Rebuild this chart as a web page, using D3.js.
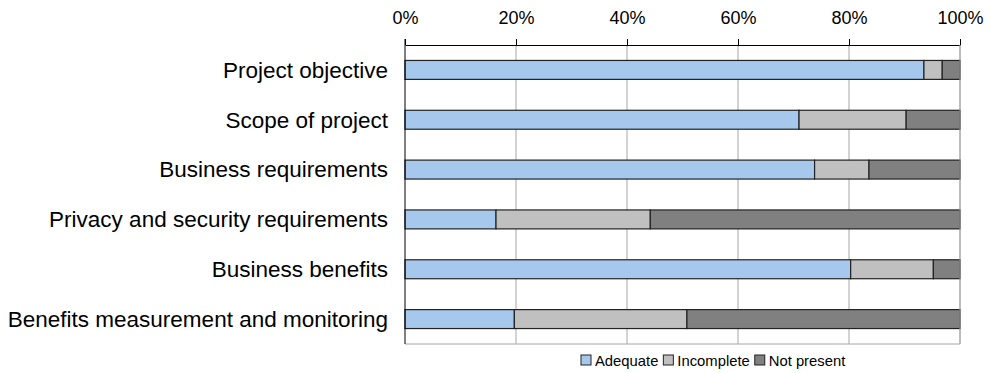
<!DOCTYPE html>
<html>
<head>
<meta charset="utf-8">
<script src="https://cdn.jsdelivr.net/npm/d3@7"></script>
<style>
  body { margin: 0; background: #fff; }
  svg { font-family: "Liberation Sans", Arial, sans-serif; }
</style>
</head>
<body>
<div id="chart"></div>
<script>
// categories, top to bottom
const categories = ["Project objective", "Scope of project", "Business requirements",
    "Privacy and security requirements", "Business benefits", "Benefits measurement and monitoring"];
const seriesNames = ["Adequate", "Incomplete", "Not present"];
const adequate = [93.5, 71.0, 73.8, 16.4, 80.3, 19.7];
const incomplete = [3.3, 19.3, 9.8, 27.8, 14.9, 31.1];
const notPresent = [3.2, 9.7, 16.4, 55.8, 4.8, 49.2];
const tickValues = [0, 20, 40, 60, 80, 100];
const colors = ["#a6c8ec", "#c0c0c0", "#808080"];

let width = 990, height = 373;
let margin = { top: 45, right: 30, bottom: 29, left: 405 };

let svg = d3.select("#chart").append("svg")
    .attr("width", width)
    .attr("height", height);

let x = d3.scaleLinear().domain([0, 100]).range([margin.left, width - margin.right]);
let y = d3.scaleBand().domain(categories)
    .range([margin.top, height - margin.bottom])
    .paddingInner(0.62).paddingOuter(0.31);

// gridlines
svg.append("g")
    .selectAll("line")
    .data(tickValues.slice(1))
    .enter().append("line")
    .attr("x1", d => x(d)).attr("x2", d => x(d))
    .attr("y1", margin.top).attr("y2", height - margin.bottom)
    .attr("stroke", "#a6a6a6").attr("stroke-width", 1);

// bottom border
svg.append("line")
    .attr("x1", margin.left).attr("x2", width - margin.right)
    .attr("y1", height - margin.bottom).attr("y2", height - margin.bottom)
    .attr("stroke", "#a6a6a6");

// stack the data
let rows = categories.map((c, i) => ({ cat: c, Adequate: adequate[i], Incomplete: incomplete[i], "Not present": notPresent[i] }));
let stacked = d3.stack().keys(seriesNames)(rows);

svg.append("g").selectAll("g")
    .data(stacked)
    .enter().append("g")
    .attr("fill", (d, i) => colors[i])
    .selectAll("rect")
    .data(d => d)
    .enter().append("rect")
    .attr("x", d => x(d[0]))
    .attr("y", d => y(d.data.cat))
    .attr("width", d => x(d[1]) - x(d[0]))
    .attr("height", y.bandwidth())
    .attr("stroke", "#222")
    .attr("stroke-width", 1.2);

// top axis
let xAxis = svg.append("g")
    .attr("transform", `translate(0, ${margin.top})`)
    .call(d3.axisTop(x).tickValues(tickValues).tickFormat(d => d + "%").tickSize(6).tickSizeOuter(0));
xAxis.select(".domain").attr("stroke", "#000");
xAxis.selectAll(".tick line").attr("stroke", "#000");
xAxis.selectAll("text").attr("font-size", 18).attr("fill", "#000")
    .attr("font-family", "Liberation Sans, Arial, sans-serif")
    .attr("dy", 0)
    .attr("y", -21);

// left axis line
svg.append("line")
    .attr("x1", margin.left).attr("x2", margin.left)
    .attr("y1", margin.top - 6).attr("y2", height - margin.bottom)
    .attr("stroke", "#000");

// right edge
svg.append("line")
    .attr("x1", x(100)).attr("x2", x(100))
    .attr("y1", margin.top).attr("y2", height - margin.bottom)
    .attr("stroke", "#a6a6a6");

// category labels
svg.append("g").selectAll("text")
    .data(categories)
    .enter().append("text")
    .attr("x", margin.left - 17)
    .attr("y", d => y(d) + y.bandwidth() / 2)
    .attr("dy", "0.35em")
    .attr("text-anchor", "end")
    .attr("font-size", 22.5)
    .text(d => d);

// legend
let legend = svg.append("g").attr("transform", `translate(0, ${height - 12})`);
let lx = 581;
seriesNames.forEach((s, i) => {
    legend.append("rect")
        .attr("x", lx).attr("y", -6)
        .attr("width", 10).attr("height", 10)
        .attr("fill", colors[i]).attr("stroke", "#222");
    let t = legend.append("text")
        .attr("x", lx + 14).attr("y", 0)
        .attr("dy", "0.35em")
        .attr("font-size", 14.8)
        .text(s);
    lx += 14 + t.node().getComputedTextLength() + 5;
});
</script>
</body>
</html>
